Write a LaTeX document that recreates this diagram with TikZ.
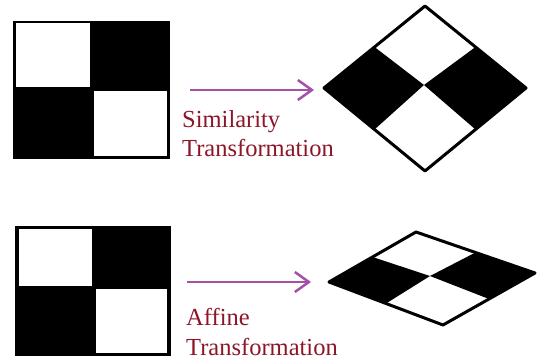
\documentclass[tikz,border=0pt]{standalone}
\usepackage{fontspec}
\setmainfont{Liberation Serif}
\usetikzlibrary{arrows.meta,calc}
\definecolor{arrowpurple}{RGB}{163,82,168}
\definecolor{labelred}{RGB}{140,22,40}
\tikzset{
  board/.style={fill=black, inner sep=0pt},
  cell/.style={fill=white},
  rim/.style={draw=black, line width=3pt, line join=round},
  tfarrow/.style={draw=arrowpurple, line width=2pt, -{Straight Barb[length=14pt,width=20pt,line width=2.5pt]}},
  tflabel/.style={text=labelred, font=\fontsize{24.5}{29}\selectfont, align=left, anchor=base west, inner sep=0pt}
}
\begin{document}
\begin{tikzpicture}[x=1pt,y=-1pt]
\useasboundingbox (0,0) rectangle (538,363);

% similarity: square board
\node[board, minimum width=157pt, minimum height=138pt] (sqA) at (91.5,90) {};
\fill[cell] (16,23) rectangle (90,87);
\fill[cell] (94,91) rectangle (167,156);

% similarity: rotated board
\coordinate (dAt) at (425,6);
\coordinate (dAl) at (324,88);
\coordinate (dAr) at (526,88);
\coordinate (dAb) at (425,171);
\coordinate (dAc) at (424,85);
\fill ($(dAt)!0.5!(dAl)$) -- (dAl) -- ($(dAl)!0.5!(dAb)$) -- (dAc) -- cycle;
\fill ($(dAt)!0.5!(dAr)$) -- (dAr) -- ($(dAr)!0.5!(dAb)$) -- (dAc) -- cycle;
\draw[rim] (dAt) -- (dAl) -- (dAb) -- (dAr) -- cycle;

\draw[tfarrow] ([xshift=20pt]sqA.east) -- ([xshift=-10pt]sqA.east -| dAl);
% base sits on the last line
\node[tflabel] (simA) at (182,157) {Similarity\\Transformation};

% affine: square board
\node[board, minimum width=156pt, minimum height=130pt] (sqB) at (93,291) {};
\fill[cell] (19,229) rectangle (92,286);
\fill[cell] (96,289) rectangle (167,353);

% affine: sheared board
\coordinate (dBt) at (416,232);
\coordinate (dBl) at (329,282);
\coordinate (dBr) at (535,273);
\coordinate (dBb) at (443,325);
\coordinate (dBc) at (430,276);
\fill ($(dBt)!0.5!(dBl)$) -- (dBl) -- ($(dBl)!0.5!(dBb)$) -- (dBc) -- cycle;
\fill ($(dBt)!0.5!(dBr)$) -- (dBr) -- ($(dBr)!0.5!(dBb)$) -- (dBc) -- cycle;
\draw[rim] (dBt) -- (dBl) -- (dBb) -- (dBr) -- cycle;

\draw[tfarrow] ([xshift=16pt]sqB.east |- dBl) -- ([xshift=-18pt]dBl);
\node[tflabel] (affB) at (186,355) {Affine\\Transformation};
\end{tikzpicture}
\end{document}
